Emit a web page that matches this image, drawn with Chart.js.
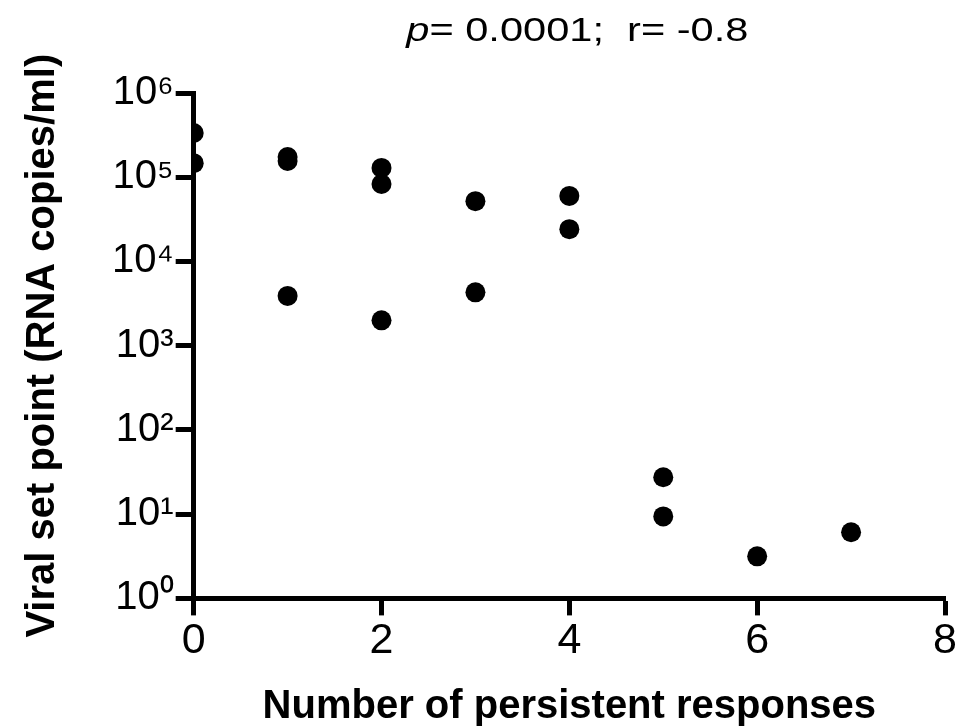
<!DOCTYPE html>
<html>
<head>
<meta charset="utf-8">
<script src="https://cdn.jsdelivr.net/npm/chart.js@4"></script>
<style>
  body { margin: 0; background: #fff; }
  #wrap { width: 968px; height: 727px; }
</style>
</head>
<body>
<div id="wrap"><canvas id="grafico" width="968" height="727"></canvas></div>
<script>
// persistent responses (x) and viral set point (y, RNA copies/ml)
const respuestas = [0, 0, 1, 1, 1, 2, 2, 2, 3, 3, 4, 4, 5, 5, 6, 7];
const cargaViral = [335000, 147000, 174000, 156000, 3900, 129000, 83000, 2000, 52000, 4300, 60000, 24200, 27.4, 9.4, 3.16, 6.1];
const ticksX = [0, 2, 4, 6, 8];
const ticksY = [1, 10, 100, 1000, 10000, 100000, 1000000];
const superindices = ['⁰', '¹', '²', '³', '⁴', '⁵', '⁶'];
const tituloP = 'p';
const tituloResto = '= 0.0001;  r= -0.8';

const fuente = "'Liberation Sans', Arial, sans-serif";

// titulo con la p en cursiva (letra algo ensanchada como en el original)
const tituloPlugin = {
    id: 'tituloPlugin',
    afterDraw(chart) {
        const ctx = chart.ctx;
        const area = chart.chartArea;
        const ancho = 1.26;
        ctx.save();
        ctx.fillStyle = '#000';
        ctx.textBaseline = 'alphabetic';
        ctx.font = 'italic 33px ' + fuente;
        const wP = ctx.measureText(tituloP).width;
        ctx.font = '33px ' + fuente;
        const wR = ctx.measureText(tituloResto).width;
        const cx = (area.left + area.right) / 2 + 8;
        ctx.translate(cx, 41);
        ctx.scale(ancho, 1);
        const x0 = -(wP + wR) / 2;
        ctx.font = 'italic 33px ' + fuente;
        ctx.fillText(tituloP, x0, 0);
        ctx.font = '33px ' + fuente;
        ctx.fillText(tituloResto, x0 + wP, 0);
        ctx.restore();
    }
};

new Chart(document.getElementById('grafico'), {
    type: 'scatter',
    data: {
        datasets: [{
            data: respuestas.map((r, i) => ({ x: r, y: cargaViral[i] })),
            backgroundColor: '#000',
            borderColor: '#000',
            borderWidth: 0,
            pointRadius: 10,
            pointHoverRadius: 10
        }]
    },
    options: {
        responsive: false,
        animation: false,
        layout: { padding: { top: 93, right: 23, left: 19, bottom: 0 } },
        plugins: { legend: { display: false }, tooltip: { enabled: false } },
        scales: {
            x: {
                type: 'linear',
                min: 0,
                max: 8,
                afterBuildTicks: axis => { axis.ticks = ticksX.map(v => ({ value: v })); },
                grid: { display: true, drawOnChartArea: false, drawTicks: true, tickLength: 17, tickWidth: 5, tickColor: '#000' },
                border: { display: true, width: 5, color: '#000' },
                ticks: { color: '#000', font: { family: fuente, size: 43 }, padding: 0, maxRotation: 0 },
                title: { display: true, text: 'Number of persistent responses', color: '#000', font: { family: fuente, size: 40, weight: 'bold', lineHeight: 1 }, padding: { top: 20, bottom: 0 } }
            },
            y: {
                type: 'logarithmic',
                min: 1,
                max: 1000000,
                afterBuildTicks: axis => { axis.ticks = ticksY.map(v => ({ value: v })); },
                grid: { display: true, drawOnChartArea: false, drawTicks: true, tickLength: 18, tickWidth: 5, tickColor: '#000' },
                border: { display: true, width: 5, color: '#000' },
                ticks: {
                    color: '#000',
                    font: { family: fuente, size: 40 },
                    padding: 2,
                    callback: v => '10' + superindices[Math.round(Math.log10(v))]
                },
                title: { display: true, text: 'Viral set point (RNA copies/ml)', color: '#000', font: { family: fuente, size: 40, weight: 'bold' }, padding: { top: 0, bottom: 43 } }
            }
        }
    },
    plugins: [tituloPlugin]
});
</script>
</body>
</html>
